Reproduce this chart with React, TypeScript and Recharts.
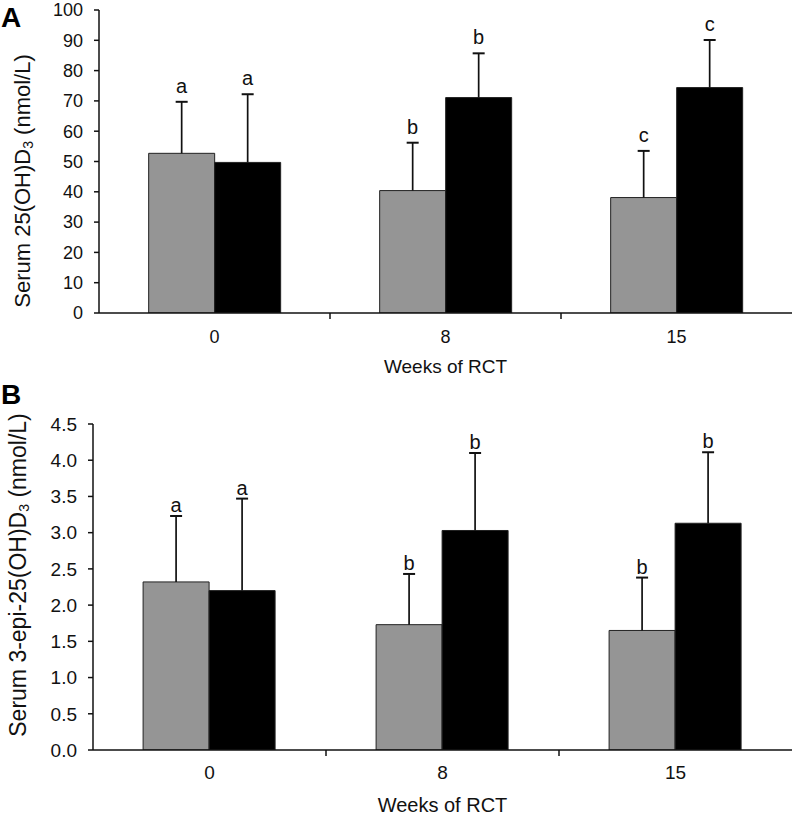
import React from 'react';
import { BarChart, Bar, XAxis, YAxis, LabelList } from 'recharts';

const weeks = ['0', '8', '15'];

// Panel A: Serum 25(OH)D3 (nmol/L)
const aGrayMean = [52.7, 40.4, 38.1];
const aGrayErr = [17.0, 15.8, 15.4];
const aBlackMean = [49.7, 71.1, 74.4];
const aBlackErr = [22.5, 14.6, 15.7];
const aGrayLetters = ['a', 'b', 'c'];
const aBlackLetters = ['a', 'b', 'c'];
const aTicks = [0, 10, 20, 30, 40, 50, 60, 70, 80, 90, 100];

// Panel B: Serum 3-epi-25(OH)D3 (nmol/L)
const bGrayMean = [2.32, 1.73, 1.65];
const bGrayErr = [0.91, 0.7, 0.73];
const bBlackMean = [2.2, 3.03, 3.13];
const bBlackErr = [1.27, 1.07, 0.98];
const bGrayLetters = ['a', 'b', 'b'];
const bBlackLetters = ['a', 'b', 'b'];
const bTicks = [0, 0.5, 1, 1.5, 2, 2.5, 3, 3.5, 4, 4.5];

const FONT = '"Liberation Sans", Arial, Helvetica, sans-serif';
const GRAY = '#959595';
const W = 796;

const build = (gm: number[], ge: number[], bm: number[], be: number[], gl: string[], bl: string[]) =>
  weeks.map((w, i) => ({
    week: w,
    gMean: gm[i],
    gErr: ge[i],
    bMean: bm[i],
    bErr: be[i],
    gLetter: gl[i],
    bLetter: bl[i],
  }));

const dataA = build(aGrayMean, aGrayErr, aBlackMean, aBlackErr, aGrayLetters, aBlackLetters);
const dataB = build(bGrayMean, bGrayErr, bBlackMean, bBlackErr, bGrayLetters, bBlackLetters);

const Whisker = (props: any) => {
  const { x, y, width, height } = props;
  if (x == null || y == null) return null;
  const cx = x + width / 2;
  return (
    <g>
      <line x1={cx} y1={y} x2={cx} y2={y + height} stroke="#111" strokeWidth={1.7} />
      <line x1={cx - 6} y1={y} x2={cx + 6} y2={y} stroke="#111" strokeWidth={2} />
    </g>
  );
};

const makeXTick = (bw: number, labelDy: number, fs: number) => (props: any) => {
  const { x, y, payload, index } = props;
  return (
    <g>
      <text x={x} y={y + labelDy} textAnchor="middle" dominantBaseline="central" fontSize={fs} fontFamily={FONT} fill="#111">
        {payload.value}
      </text>
      {index < 2 ? (
        <line x1={x + bw / 2} y1={y} x2={x + bw / 2} y2={y + 6} stroke="#111" strokeWidth={1.5} />
      ) : null}
    </g>
  );
};

interface PanelProps {
  data: any[];
  height: number;
  top: number;
  yWidth: number;
  xHeight: number;
  domainMax: number;
  ticks: number[];
  fmt: (v: number) => string;
  letterOffset: number;
  labelDy: number;
  panel: string;
  panelY: number;
  titleMain: string;
  titleX: number;
  titleY: number;
  titleFs: number;
  tickFs: number;
  letterFs: number;
  xTitleFs: number;
  xTitleY: number;
}

const Panel = (p: PanelProps) => {
  const right = 4;
  const bw = (W - p.yWidth - right) / 3;
  const plotCenterX = p.yWidth + (W - p.yWidth - right) / 2;
  const letterStyle = { fontSize: p.letterFs, fontFamily: FONT, fill: '#111' };
  return (
    <BarChart
      width={W}
      height={p.height}
      data={p.data}
      margin={{ top: p.top, right, bottom: 0, left: 0 }}
      barCategoryGap="21.5%"
      barGap={0}
    >
      <XAxis
        dataKey="week"
        height={p.xHeight}
        axisLine={{ stroke: '#111', strokeWidth: 1.5 }}
        tickLine={false}
        tickSize={0}
        tickMargin={0}
        interval={0}
        tick={makeXTick(bw, p.labelDy, p.tickFs)}
        label={{
          content: () => (
            <text x={plotCenterX} y={p.xTitleY} textAnchor="middle" dominantBaseline="central" fontSize={p.xTitleFs} fontFamily={FONT} fill="#111">
              Weeks of RCT
            </text>
          ),
        }}
      />
      <YAxis
        width={p.yWidth}
        domain={[0, p.domainMax]}
        ticks={p.ticks}
        interval={0}
        allowDataOverflow
        tickFormatter={p.fmt}
        axisLine={{ stroke: '#111', strokeWidth: 1.5 }}
        tickLine={{ stroke: '#111', strokeWidth: 1.5 }}
        tickSize={5}
        tickMargin={11}
        tick={{ fontSize: p.tickFs, fontFamily: FONT, fill: '#111' }}
        label={{
          content: () => (
            <g>
              <text x={1} y={p.panelY} fontSize={28} fontWeight="bold" fontFamily={FONT} fill="#000">
                {p.panel}
              </text>
              <text
                x={p.titleX}
                y={p.titleY}
                transform={`rotate(-90 ${p.titleX} ${p.titleY})`}
                textAnchor="middle"
                dominantBaseline="central"
                fontSize={p.titleFs}
                fontFamily={FONT}
                fill="#111"
              >
                {p.titleMain}
                <tspan fontSize={Math.round(p.titleFs * 0.62)} dy={6}>3</tspan>
                <tspan dy={-6}> (nmol/L)</tspan>
              </text>
            </g>
          ),
        }}
      />
      <Bar dataKey="gMean" stackId="g" fill={GRAY} stroke="#222" strokeWidth={1} isAnimationActive={false} />
      <Bar dataKey="gErr" stackId="g" fill="none" shape={<Whisker />} isAnimationActive={false}>
        <LabelList dataKey="gLetter" position="top" offset={p.letterOffset} style={letterStyle} />
      </Bar>
      <Bar dataKey="bMean" stackId="k" fill="#000" stroke="#222" strokeWidth={1} isAnimationActive={false} />
      <Bar dataKey="bErr" stackId="k" fill="none" shape={<Whisker />} isAnimationActive={false}>
        <LabelList dataKey="bLetter" position="top" offset={p.letterOffset} style={letterStyle} />
      </Bar>
    </BarChart>
  );
};

export default function App() {
  return (
    <div style={{ position: 'absolute', left: 0, top: 0, width: W, height: 815, background: '#fff', overflow: 'hidden' }}>
      <div style={{ position: 'absolute', left: 0, top: 0 }}>
        <Panel
          data={dataA}
          height={390}
          top={10}
          yWidth={99}
          xHeight={77}
          domainMax={100}
          ticks={aTicks}
          fmt={(v) => String(v)}
          letterOffset={9}
          labelDy={24}
          panel="A"
          panelY={27}
          titleMain="Serum 25(OH)D"
          titleX={22}
          titleY={181}
          titleFs={22}
          tickFs={18}
          letterFs={20}
          xTitleFs={19}
          xTitleY={366}
        />
      </div>
      <div style={{ position: 'absolute', left: 0, top: 375 }}>
        <Panel
          data={dataB}
          height={440}
          top={49}
          yWidth={93}
          xHeight={65}
          domainMax={4.5}
          ticks={bTicks}
          fmt={(v) => v.toFixed(1)}
          letterOffset={4}
          labelDy={22}
          panel="B"
          panelY={29}
          titleMain="Serum 3-epi-25(OH)D"
          titleX={18}
          titleY={200}
          titleFs={23}
          tickFs={19}
          letterFs={20}
          xTitleFs={20}
          xTitleY={430}
        />
      </div>
    </div>
  );
}
